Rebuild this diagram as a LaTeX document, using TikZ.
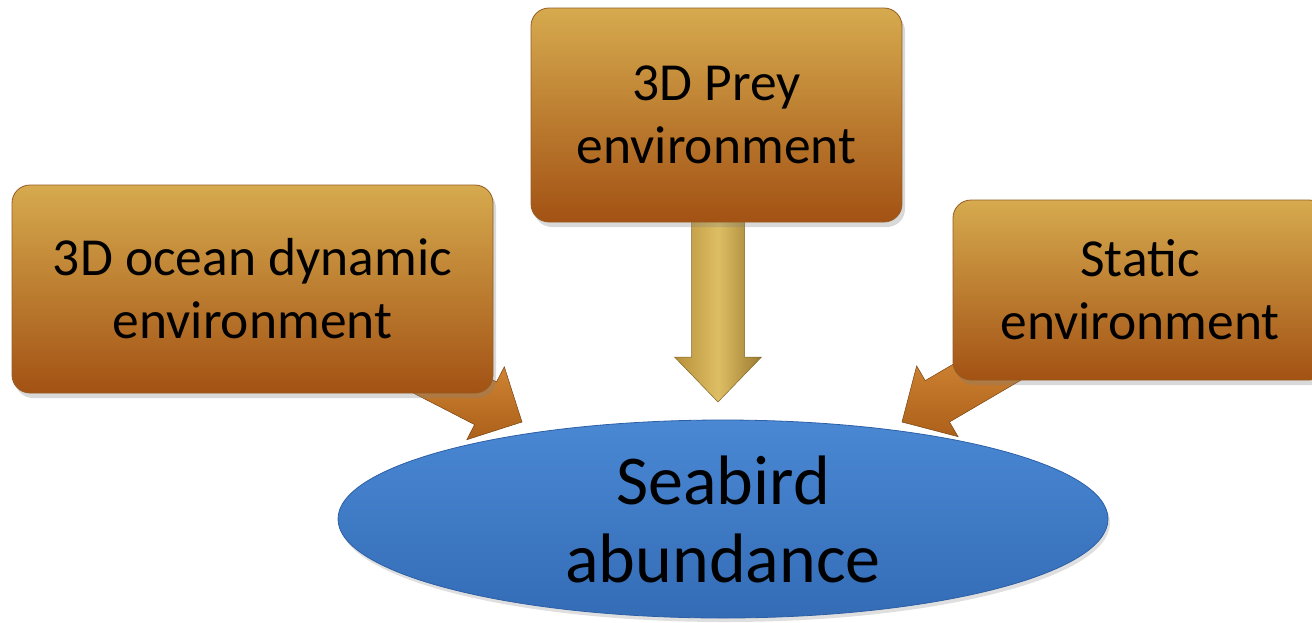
\documentclass[tikz,border=0pt]{standalone}
\usepackage{fontspec}
\setmainfont{Carlito}
\usetikzlibrary{calc,shapes.geometric,shadows}
\pgfdeclarelayer{bg}
\pgfsetlayers{bg,main}
\definecolor{boxtop}{RGB}{214,170,78}
\definecolor{boxbot}{RGB}{163,82,20}
\definecolor{boxline}{RGB}{150,92,34}
\definecolor{goldA}{RGB}{222,190,100}
\definecolor{goldB}{RGB}{182,144,56}
\definecolor{orA}{RGB}{222,146,60}
\definecolor{orB}{RGB}{172,96,26}
\definecolor{blueA}{RGB}{74,136,212}
\definecolor{blueB}{RGB}{52,108,182}
\definecolor{blueline}{RGB}{45,95,165}
\tikzset{
  envbox/.style={rectangle, rounded corners=18pt, inner sep=0pt,
    top color=boxtop, bottom color=boxbot, draw=boxline, line width=0.8pt,
    align=center, font=\fontsize{53.5}{63}\selectfont,
    drop shadow={shadow xshift=3pt, shadow yshift=-5pt, opacity=0.3}},
  ovalnode/.style={ellipse, inner sep=0pt, top color=blueA, bottom color=blueB,
    draw=blueline, line width=0.8pt,
    drop shadow={shadow xshift=2pt, shadow yshift=-4pt, opacity=0.25}},
  goldarrow/.style={left color=goldB, right color=goldB!85!black, middle color=goldA,
    draw=goldB!70!black, line width=0.5pt},
  orarrow/.style={top color=orA, bottom color=orB, draw=orB!70!black, line width=0.5pt}
}
\newcommand\blockarrow[6]{%
  \coordinate (bab) at ($(#2)!#5!(#1)$);
  \path[#6] ($(#1)!#3!90:(#2)$) -- ($(bab)!#3!90:(#2)$) -- ($(bab)!#4!90:(#2)$)
    -- (#2) -- ($(bab)!#4!-90:(#2)$) -- ($(bab)!#3!-90:(#2)$)
    -- ($(#1)!#3!-90:(#2)$) -- cycle;
}
\begin{document}
\begin{tikzpicture}[x=1pt,y=-1pt]
\useasboundingbox (0,0) rectangle (1312,622);
\begin{scope}
\clip (0,0) rectangle (1312,622);
\node[ovalnode, minimum width=770pt, minimum height=198pt,
  label={[font=\fontsize{70}{78}\selectfont, align=center]center:Seabird\\abundance}]
  (seabird) at (723,519) {};
\node[envbox, minimum width=481pt, minimum height=208pt] (ocean) at (252.5,289)
  {3D ocean dynamic\\environment};
\node[envbox, minimum width=371pt, minimum height=214pt] (prey) at (716.5,115)
  {3D Prey\\environment};
\node[envbox, minimum width=374pt, minimum height=180pt] (static) at (1140,290)
  {Static\\environment};
\coordinate (tipL) at (522,422);
\coordinate (tipM) at (718,402);
\coordinate (tipR) at (902,422);
\coordinate (sL) at ($(ocean.south east)+(-97,-36)$);
\coordinate (sM) at ($(prey.south -| tipM)+(0,-20)$);
\coordinate (sR) at ($(static.south west)+(87,-39)$);
\begin{pgfonlayer}{bg}
\blockarrow{sL}{tipL}{24pt}{41pt}{41pt}{orarrow}
\blockarrow{sM}{tipM}{26.5pt}{43.5pt}{45pt}{goldarrow}
\blockarrow{sR}{tipR}{24pt}{41pt}{41pt}{orarrow}
\end{pgfonlayer}
\end{scope}
\end{tikzpicture}
\end{document}
